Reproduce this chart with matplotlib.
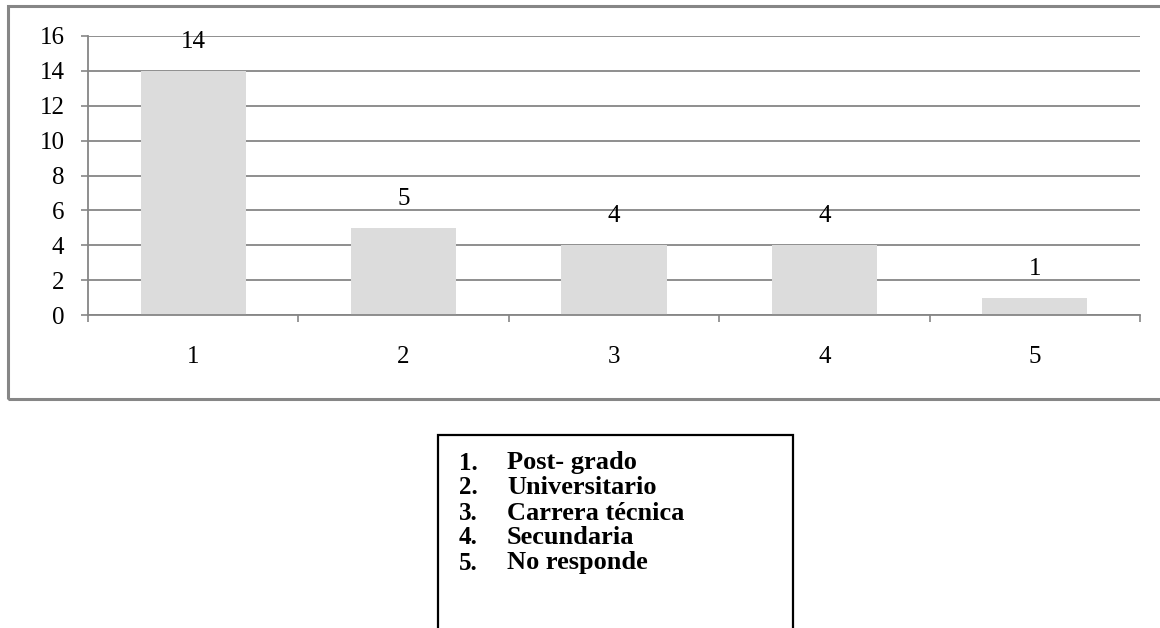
import matplotlib
matplotlib.use("Agg")
import matplotlib.pyplot as plt
from matplotlib.patches import Rectangle

categories = ["1", "2", "3", "4", "5"]
values = [14, 5, 4, 4, 1]
legend_numbers = ["1.", "2.", "3.", "4.", "5."]
legend_labels = ["Post- grado", "Universitario", "Carrera técnica", "Secundaria", "No responde"]
y_ticks = [0, 2, 4, 6, 8, 10, 12, 14, 16]

plt.rcParams["font.family"] = ["Liberation Serif", "DejaVu Serif"]

W, H = 1160, 628
fig = plt.figure(figsize=(W / 100, H / 100), dpi=100)
fig.patch.set_facecolor("white")

def fx(px):
    return px / W

def fy(py):
    return 1 - py / H

gray = "#868686"

# outer chart frame
fig.patches.append(Rectangle((fx(8), fy(399)), fx(1170) - fx(8), fy(6) - fy(399),
                             transform=fig.transFigure, fill=False, edgecolor=gray,
                             linewidth=2.2, zorder=0))

ax = fig.add_axes([fx(88), fy(315), fx(1140) - fx(88), fy(36) - fy(315)])
x = list(range(1, len(categories) + 1))
ax.bar(x, values, width=0.5, color="#dcdcdc", zorder=3)
ax.set_xlim(0.5, len(categories) + 0.5)
ax.set_ylim(0, 16)
ax.set_yticks(y_ticks)
ax.set_yticklabels([str(t) for t in y_ticks], fontsize=18)
ax.set_xticks(x)
ax.set_xticklabels(categories, fontsize=18)
ax.set_xticks([i + 0.5 for i in range(len(categories) + 1)], minor=True)
ax.tick_params(axis="x", which="major", length=0, pad=22)
ax.tick_params(axis="x", which="minor", length=5, width=1.2, color=gray, direction="out")
ax.tick_params(axis="y", length=5, width=1.2, color=gray, direction="out", pad=12)
ax.yaxis.grid(True, color=gray, linewidth=1.3, zorder=1)
ax.set_axisbelow(True)
for s in ["top", "right"]:
    ax.spines[s].set_visible(False)
for s in ["left", "bottom"]:
    ax.spines[s].set_color(gray)
    ax.spines[s].set_linewidth(1.3)
    ax.spines[s].set_zorder(4)

for xi, v in zip(x, values):
    ax.annotate(str(v), (xi, v), xytext=(0, 13), textcoords="offset points",
                ha="center", va="bottom", fontsize=18, zorder=5)

# legend box
fig.patches.append(Rectangle((fx(438), fy(640)), fx(793) - fx(438), fy(435) - fy(640),
                             transform=fig.transFigure, fill=False, edgecolor="black",
                             linewidth=1.6))
ys = [463, 488, 513, 538, 563]
for yy, n, lab in zip(ys, legend_numbers, legend_labels):
    fig.text(fx(459), fy(yy), n, ha="left", va="center", fontsize=18, fontweight="bold")
    fig.text(fx(507), fy(yy), lab, ha="left", va="center", fontsize=19, fontweight="bold")

fig.savefig("out.png", dpi=100)
